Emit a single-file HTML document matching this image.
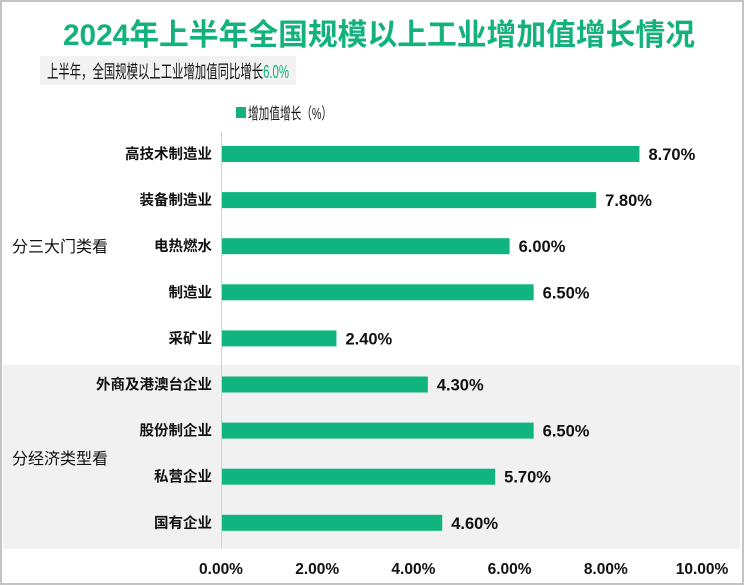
<!DOCTYPE html>
<html><head><meta charset="utf-8"><style>
body{margin:0;width:744px;height:585px;overflow:hidden;background:#fff;font-family:"Liberation Sans","Noto Sans CJK SC",sans-serif;}
#frame{position:absolute;left:0;top:0;width:740px;height:581px;border:2px solid #c4c4c4;}
</style></head><body>
<div id="frame"></div>
<svg width="744" height="585" style="position:absolute;left:0;top:0" id="chart">
<rect x="3" y="365" width="737" height="184" fill="#f1f1f1"/>
<text x="63" y="45" textLength="632" lengthAdjust="spacingAndGlyphs" font-size="30" font-weight="bold" fill="#13b27d">2024年上半年全国规模以上工业增加值增长情况</text>
<rect x="40" y="56" width="256" height="29" fill="#f2f2f2"/>
<text x="47" y="78" textLength="242" lengthAdjust="spacingAndGlyphs" font-size="18" fill="#111">上半年，全国规模以上工业增加值同比增长<tspan fill="#13b27d">6.0%</tspan></text>
<rect x="236" y="107" width="10" height="11" fill="#13b27d"/>
<text x="248" y="119" textLength="84" lengthAdjust="spacingAndGlyphs" font-size="16" fill="#111">增加值增长（%）</text>
<line x1="221.5" y1="132" x2="221.5" y2="548" stroke="#d0d0d0"/>
<text x="12" y="252" font-size="16" fill="#111">分三大门类看</text>
<text x="12" y="464" font-size="16" fill="#111">分经济类型看</text>
<g id="bars"></g>
</svg>
<script>
const categories=["高技术制造业","装备制造业","电热燃水","制造业","采矿业","外商及港澳台企业","股份制企业","私营企业","国有企业"];
const values=[8.7,7.8,6.0,6.5,2.4,4.3,6.5,5.7,4.6];
const ticks=[0,2,4,6,8,10];
const tickLabels=["0.00%","2.00%","4.00%","6.00%","8.00%","10.00%"];
const x0=221,pxPer=48.1,rowTop=154,rowStep=46.1,barH=16;
const xs=v=>x0+v*pxPer;
const ys=i=>rowTop+i*rowStep;
const g=document.getElementById('bars');
const NS='http://www.w3.org/2000/svg';
categories.forEach((c,i)=>{
 const y=ys(i);
 const r=document.createElementNS(NS,'rect');
 r.setAttribute('x',x0+1);r.setAttribute('y',y-barH/2);
 r.setAttribute('width',xs(values[i])-x0-1);r.setAttribute('height',barH);r.setAttribute('fill','#0fb47f');
 
 
 g.appendChild(r);
 const t=document.createElementNS(NS,'text');
 t.setAttribute('x',x0-9);t.setAttribute('y',y+5);t.setAttribute('text-anchor','end');
 t.setAttribute('font-size','14.5');t.setAttribute('font-weight','bold');t.setAttribute('fill','#111');
 t.textContent=c;
 
 
 g.appendChild(t);
 const v=document.createElementNS(NS,'text');
 v.setAttribute('x',xs(values[i])+9);v.setAttribute('y',y+6);
 v.setAttribute('font-size','16.5');v.setAttribute('font-weight','bold');v.setAttribute('fill','#111');
 v.textContent=values[i].toFixed(2)+'%';
 
 
 g.appendChild(v);
});
ticks.forEach((tk,i)=>{
 const t=document.createElementNS(NS,'text');
 t.setAttribute('x',xs(tk));t.setAttribute('y',574);t.setAttribute('text-anchor','middle');
 t.setAttribute('font-size','15.5');t.setAttribute('font-weight','bold');t.setAttribute('fill','#111');
 t.textContent=tickLabels[i];
 
 
 g.appendChild(t);
});
</script>
</body></html>
